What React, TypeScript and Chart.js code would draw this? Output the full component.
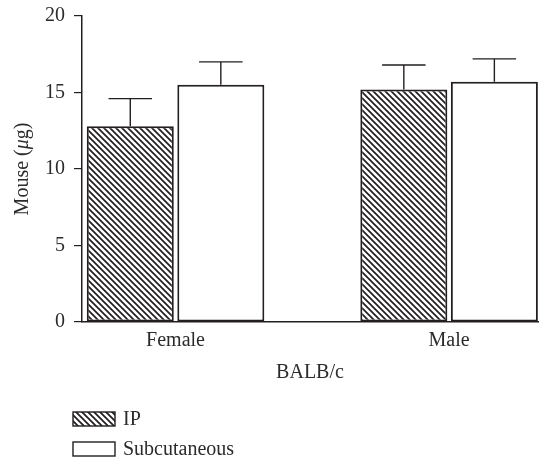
import React, { useEffect, useRef } from "react";
import { Chart, registerables } from "chart.js";

Chart.register(...registerables);

// ---- data ----
const categories = ["Female", "Male"];
const seriesNames = ["IP", "Subcutaneous"];
const ipValues = [12.8, 15.2];
const ipErrors = [1.8, 1.6];
const subValues = [15.5, 15.7];
const subErrors = [1.5, 1.5];
const yTicks = [0, 5, 10, 15, 20];
const xTitle = "BALB/c";
// y title pieces: [text, italic]
const yTitleParts: [string, boolean][] = [
  ["Mouse (", false],
  ["μ", true],
  ["g)", false],
];

// ---- style ----
const FONT_FAMILY = "'Liberation Serif', 'Times New Roman', serif";
const INK = "#231f20";
const TEXT = "#2b2b2b";
const FONT_SIZE = 20;

function makeHatch(): CanvasPattern | string {
  const s = 6;
  const c = document.createElement("canvas");
  c.width = s;
  c.height = s;
  const g = c.getContext("2d");
  if (!g) return "#888";
  g.fillStyle = "#ffffff";
  g.fillRect(0, 0, s, s);
  g.strokeStyle = INK;
  g.lineWidth = 1.7;
  g.beginPath();
  g.moveTo(-1, -1);
  g.lineTo(s + 1, s + 1);
  g.moveTo(-1, s - 1);
  g.lineTo(1, s + 1);
  g.moveTo(s - 1, -1);
  g.lineTo(s + 1, 1);
  g.stroke();
  return g.createPattern(c, "repeat") || "#888";
}

export default function App() {
  const ref = useRef<HTMLCanvasElement | null>(null);

  useEffect(() => {
    const canvas = ref.current;
    if (!canvas) return;
    const hatch = makeHatch();
    const values = [ipValues, subValues];
    const errors = [ipErrors, subErrors];
    const fills = [hatch, "#ffffff"];

    const errorBars = {
      id: "errorBars",
      afterDatasetsDraw(chart: any) {
        const { ctx } = chart;
        const y = chart.scales.y;
        ctx.save();
        ctx.strokeStyle = INK;
        ctx.lineWidth = 1.4;
        chart.data.datasets.forEach((_ds: any, di: number) => {
          const meta = chart.getDatasetMeta(di);
          meta.data.forEach((bar: any, i: number) => {
            const top = y.getPixelForValue(values[di][i] + errors[di][i]);
            const half = bar.width / 4;
            ctx.beginPath();
            ctx.moveTo(bar.x, bar.y);
            ctx.lineTo(bar.x, top);
            ctx.moveTo(bar.x - half, top);
            ctx.lineTo(bar.x + half, top);
            ctx.stroke();
          });
        });
        ctx.restore();
      },
    };

    const yTitlePlugin = {
      id: "yTitleMixed",
      afterDraw(chart: any) {
        const { ctx, chartArea } = chart;
        const normal = `${FONT_SIZE}px ${FONT_FAMILY}`;
        const italic = `italic ${FONT_SIZE}px ${FONT_FAMILY}`;
        ctx.save();
        let total = 0;
        const widths = yTitleParts.map(([t, it]) => {
          ctx.font = it ? italic : normal;
          const w = ctx.measureText(t).width;
          total += w;
          return w;
        });
        const cx = 23;
        const cy = (chartArea.top + chartArea.bottom) / 2;
        ctx.translate(cx, cy);
        ctx.rotate(-Math.PI / 2);
        ctx.fillStyle = TEXT;
        ctx.textBaseline = "middle";
        ctx.textAlign = "left";
        let x = -total / 2;
        yTitleParts.forEach(([t, it], i) => {
          ctx.font = it ? italic : normal;
          ctx.fillText(t, x, 0);
          x += widths[i];
        });
        ctx.restore();
      },
    };

    const legendBelow = {
      id: "legendBelow",
      afterDraw(chart: any) {
        const { ctx, chartArea } = chart;
        const x0 = chartArea.left - 9;
        const boxW = 42;
        const boxH = 14;
        const rows = [419, 449];
        ctx.save();
        ctx.font = `${FONT_SIZE}px ${FONT_FAMILY}`;
        ctx.textBaseline = "alphabetic";
        ctx.textAlign = "left";
        seriesNames.forEach((name, i) => {
          const cy = rows[i];
          ctx.fillStyle = fills[i] as any;
          ctx.fillRect(x0, cy - boxH / 2, boxW, boxH);
          ctx.strokeStyle = INK;
          ctx.lineWidth = 1.4;
          ctx.strokeRect(x0, cy - boxH / 2, boxW, boxH);
          ctx.fillStyle = TEXT;
          ctx.fillText(name, x0 + boxW + 8, cy + 6);
        });
        ctx.restore();
      },
    };

    const font = { family: FONT_FAMILY, size: FONT_SIZE };

    const chart = new Chart(canvas, {
      type: "bar",
      data: {
        labels: categories.map((_, i) => i),
        datasets: [
          {
            label: seriesNames[0],
            data: ipValues,
            backgroundColor: hatch as any,
            borderColor: INK,
            borderWidth: 2,
            borderSkipped: false,
          },
          {
            label: seriesNames[1],
            data: subValues,
            backgroundColor: "#ffffff",
            borderColor: INK,
            borderWidth: 2,
            borderSkipped: false,
          },
        ],
      },
      options: {
        responsive: false,
        maintainAspectRatio: false,
        animation: false,
        categoryPercentage: 0.662,
        barPercentage: 0.961,
        layout: { padding: { left: 0, right: 1, top: 16, bottom: 72 } },
        plugins: {
          legend: { display: false },
          tooltip: { enabled: false },
        },
        scales: {
          x: {
            type: "linear",
            offset: false,
            min: -0.342,
            max: 1.325,
            afterBuildTicks: (s: any) => {
              s.ticks = categories.map((_, i) => ({ value: i }));
            },
            ticks: {
              callback: (v: any) => categories[v] ?? "",
              font,
              color: TEXT,
              padding: 7,
              autoSkip: false,
              maxRotation: 0,
            },
            grid: { display: false, drawTicks: false },
            border: { display: true, color: INK, width: 1.5 },
            title: { display: true, text: xTitle, font, color: TEXT, padding: { top: 4, bottom: 4 } },
            afterFit: (s: any) => {
              s.height = 67;
              s.paddingLeft = 0;
              s.paddingRight = 0;
            },
          },
          y: {
            min: 0,
            max: 20,
            afterBuildTicks: (s: any) => {
              s.ticks = yTicks.map((v) => ({ value: v }));
            },
            ticks: { font, color: TEXT, padding: 9 },
            grid: { drawOnChartArea: false, drawTicks: true, tickLength: 8, color: INK, lineWidth: 1.2 },
            border: { display: true, color: INK, width: 1.5 },
            title: { display: false },
            afterFit: (s: any) => {
              s.width = 82;
              s.paddingTop = 0;
              s.paddingBottom = 0;
            },
          },
        },
      } as any,
      plugins: [errorBars, yTitlePlugin, legendBelow],
    });

    return () => chart.destroy();
  }, []);

  return (
    <div style={{ position: "absolute", left: 0, top: 0, width: 539, height: 461, background: "#fff" }}>
      <canvas ref={ref} width={539} height={461} style={{ display: "block" }} />
    </div>
  );
}
